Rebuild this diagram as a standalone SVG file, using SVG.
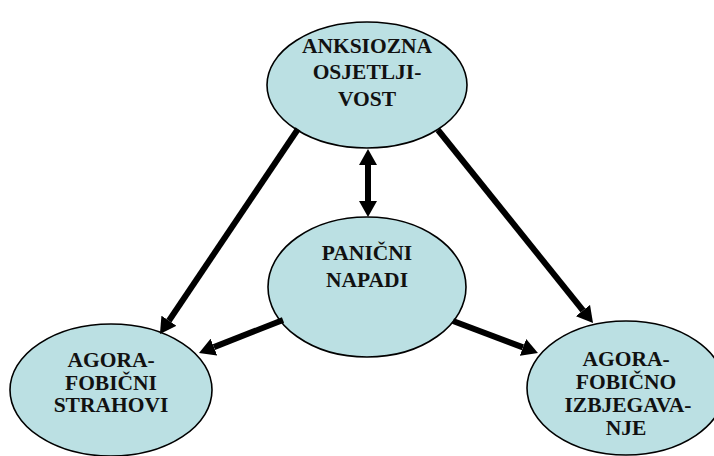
<svg xmlns="http://www.w3.org/2000/svg" width="714" height="456" viewBox="0 0 714 456">
<style>
.node ellipse{fill:#BBE0E3;stroke:#000;stroke-width:1.6}
.node text{font-family:"Liberation Serif","Times New Roman",serif;font-weight:bold;font-size:21.5px;fill:#111;text-anchor:middle}
.conn line{stroke:#000;stroke-width:6;fill:none}
</style>
<defs>
<marker id="ah" viewBox="0 0 16 18" refX="0" refY="9" markerWidth="16" markerHeight="18" markerUnits="userSpaceOnUse" orient="auto-start-reverse">
<path d="M0,0 L16,9 L0,18 z" fill="#000"/>
</marker>
</defs>
<rect width="714" height="456" fill="#fff"/>
<g id="n-anksiozna" class="node">
<ellipse cx="367" cy="85" rx="100" ry="63"/>
<text x="367" y="53">ANKSIOZNA</text>
<text x="367" y="79">OSJETLJI-</text>
<text x="367" y="106">VOST</text>
</g>
<g id="n-panicni" class="node">
<ellipse cx="367" cy="287" rx="99" ry="70"/>
<text x="367" y="260">PANIČNI</text>
<text x="367" y="287">NAPADI</text>
</g>
<g id="n-strahovi" class="node">
<ellipse cx="111" cy="390" rx="101" ry="66"/>
<text x="111" y="367">AGORA-</text>
<text x="111" y="389.5">FOBIČNI</text>
<text x="111" y="412">STRAHOVI</text>
</g>
<g id="n-izbjegavanje" class="node">
<ellipse cx="626" cy="388" rx="99" ry="67"/>
<text x="626" y="366">AGORA-</text>
<text x="626" y="389">FOBIČNO</text>
<text x="628" y="412">IZBJEGAVA-</text>
<text x="626" y="435">NJE</text>
</g>
<g id="connectors" class="conn">
<line x1="298" y1="129" x2="168.9" y2="320.7" marker-end="url(#ah)"/>
<line x1="438" y1="130" x2="583" y2="310.5" marker-end="url(#ah)"/>
<line x1="283" y1="320" x2="213.9" y2="347.1" marker-end="url(#ah)"/>
<line x1="453" y1="321" x2="523" y2="347.4" marker-end="url(#ah)"/>
<line x1="368" y1="165" x2="368" y2="201" marker-start="url(#ah)" marker-end="url(#ah)"/>
</g>
</svg>
